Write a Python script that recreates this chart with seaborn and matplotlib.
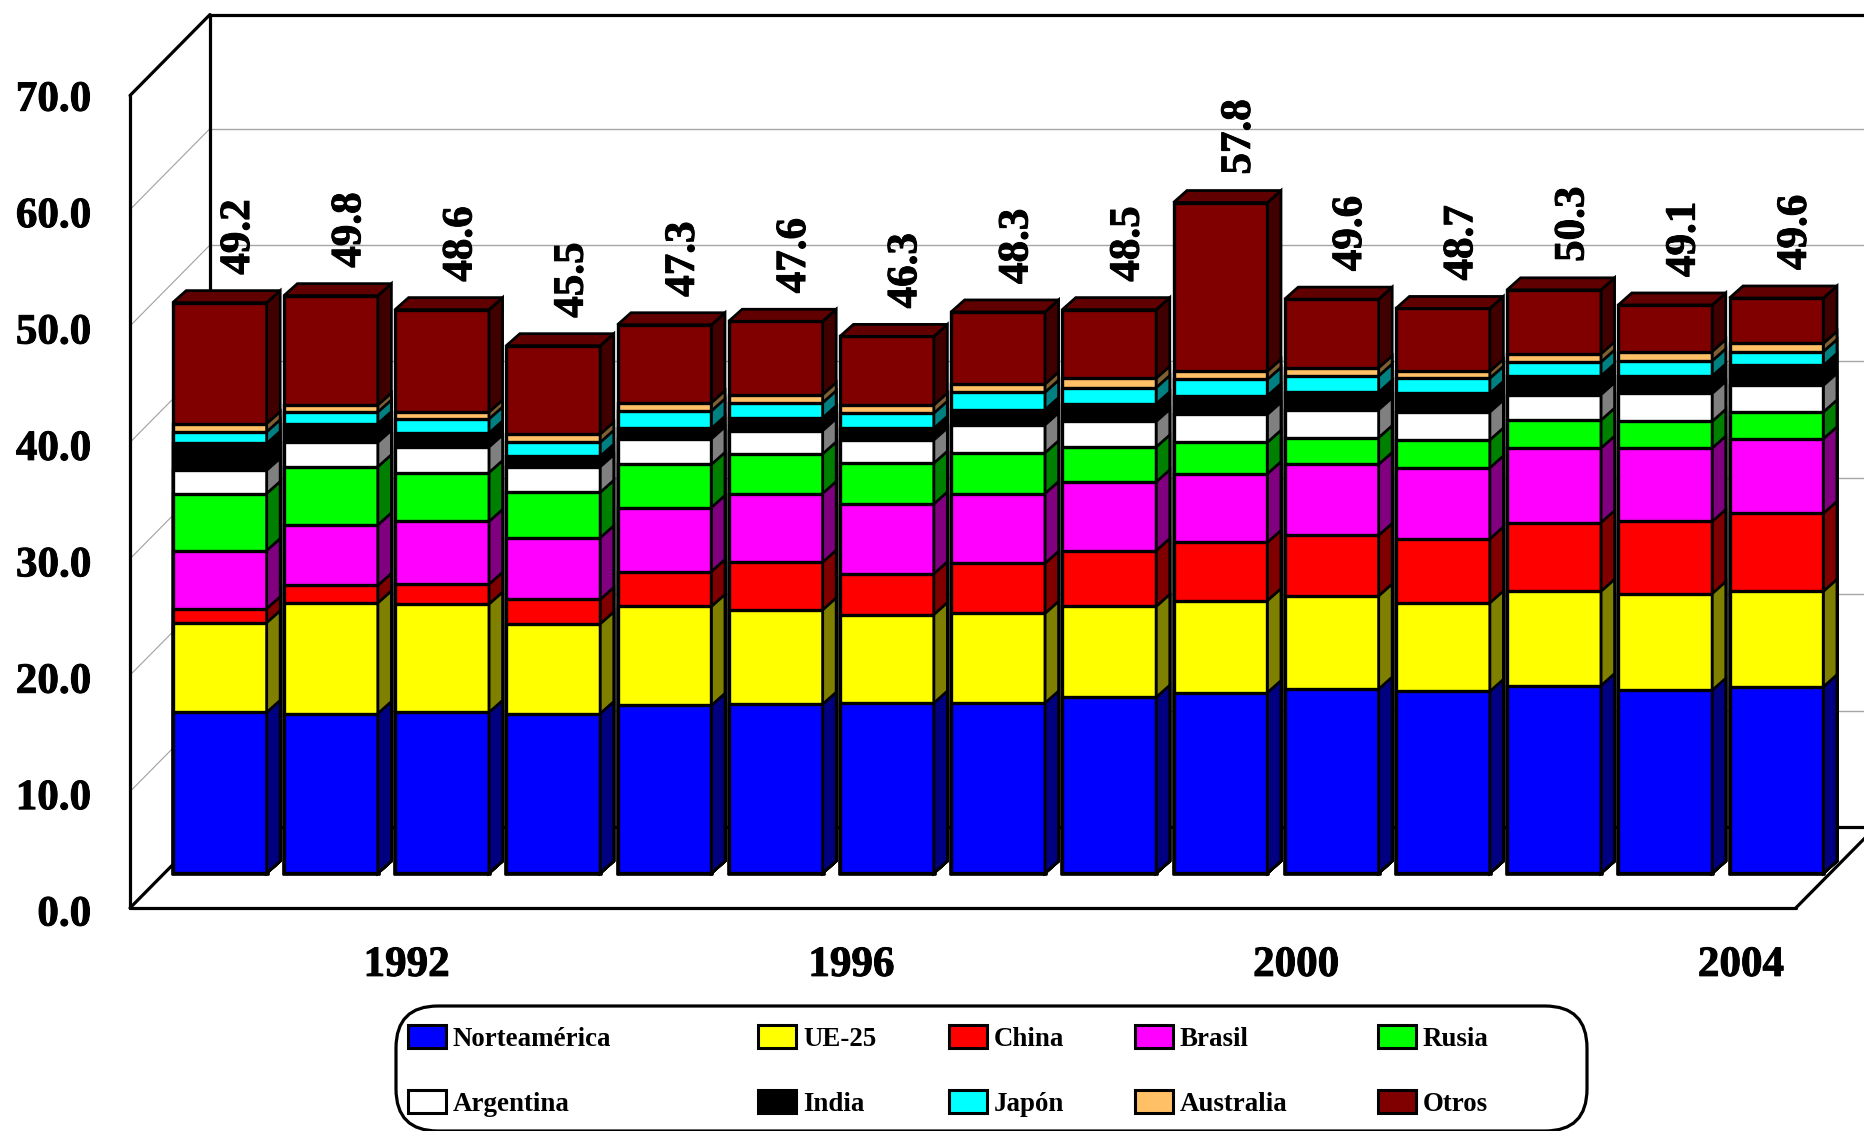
import pandas as pd
import seaborn as sns
import matplotlib
matplotlib.use('Agg')
import matplotlib.pyplot as plt
import matplotlib.patheffects as pe
from matplotlib.patches import FancyBboxPatch, Patch, Polygon
from matplotlib.transforms import ScaledTranslation

years = list(range(1990, 2005))
labels = [49.2, 49.8, 48.6, 45.5, 47.3, 47.6, 46.3, 48.3, 48.5, 57.8, 49.6, 48.7, 50.3, 49.1, 49.6]

norteamerica = [13.8, 13.7, 13.8, 13.7, 14.4, 14.5, 14.6, 14.6, 15.1, 15.5, 15.8, 15.6, 16.1, 15.7, 16.0]
ue25 = [7.7, 9.5, 9.3, 7.7, 8.5, 8.1, 7.6, 7.7, 7.8, 7.9, 8.0, 7.6, 8.1, 8.3, 8.2]
china = [1.2, 1.5, 1.7, 2.1, 3.0, 4.1, 3.5, 4.3, 4.8, 5.0, 5.2, 5.5, 5.9, 6.2, 6.7]
brasil = [5.0, 5.2, 5.4, 5.3, 5.5, 5.9, 6.0, 6.0, 5.9, 5.9, 6.1, 6.1, 6.4, 6.3, 6.4]
rusia = [4.9, 5.0, 4.2, 3.9, 3.7, 3.4, 3.5, 3.5, 3.0, 2.7, 2.3, 2.4, 2.4, 2.3, 2.3]
argentina = [2.0, 2.1, 2.2, 2.2, 2.2, 2.0, 2.0, 2.4, 2.2, 2.4, 2.4, 2.4, 2.2, 2.4, 2.3]
india = [2.3, 1.6, 1.2, 0.9, 0.9, 1.1, 1.0, 1.3, 1.5, 1.6, 1.5, 1.6, 1.6, 1.5, 1.7]
japon = [1.0, 1.0, 1.2, 1.2, 1.5, 1.3, 1.3, 1.5, 1.4, 1.4, 1.4, 1.3, 1.2, 1.3, 1.2]
australia = [0.7, 0.6, 0.6, 0.7, 0.7, 0.7, 0.7, 0.7, 0.8, 0.7, 0.7, 0.6, 0.7, 0.8, 0.7]
otros = [10.4, 9.4, 8.8, 7.6, 6.7, 6.3, 5.9, 6.2, 5.9, 14.5, 5.9, 5.4, 5.5, 4.0, 3.9]

names = ['Norteamérica', 'UE-25', 'China', 'Brasil', 'Rusia', 'Argentina', 'India', 'Japón', 'Australia', 'Otros']
series = [norteamerica, ue25, china, brasil, rusia, argentina, india, japon, australia, otros]
colors = ['#0000ff', '#ffff00', '#ff0000', '#ff00ff', '#00ff00', '#ffffff', '#000000', '#00ffff', '#ffc066', '#800000']
side_colors = ['#000080', '#808000', '#800000', '#800080', '#008000', '#808080', '#000000', '#008080', '#806033', '#400000']
top_color = '#600000'

y_ticks = [0, 10, 20, 30, 40, 50, 60, 70]
x_ticks = [1992, 1996, 2000, 2004]

sns.set_style('white')
plt.rcParams['font.family'] = ['Liberation Serif', 'DejaVu Serif']
plt.rcParams['font.weight'] = 'bold'
plt.rcParams['text.color'] = 'black'
plt.rcParams['xtick.color'] = 'black'
plt.rcParams['ytick.color'] = 'black'

W, H = 1864, 1131
fig = plt.figure(figsize=(W / 100, H / 100), dpi=100)
ax = fig.add_axes([130 / W, (H - 908) / H, (W - 130) / W, 908 / H])

# pixels per category and per value, used to place the fake 3D depth
px_x = 111.2
px_y = 11.64
bar_dx, bar_dy = 13.5 / px_x, 12 / px_y
wall_dx, wall_dy = 80 / px_x, 81 / px_y
front_dx, front_dy = 35.6 / px_x, 35 / px_y

x_left = (130 - 219.7) / px_x
x_end = (W - 219.7) / px_x
y_floor = -front_dy
bold = [pe.withStroke(linewidth=0.7, foreground='black')]

# walls and floor
for t in y_ticks[1:-1]:
    y = y_floor + t
    ax.plot([x_left, x_left + wall_dx], [y, y + wall_dy], color='#a0a0a0', lw=0.8, zorder=0.5)
    ax.plot([x_left + wall_dx, x_end], [y + wall_dy, y + wall_dy], color='#a6a6a6', lw=1.0, zorder=0.5)

x_back = x_left + wall_dx
y_back = y_floor + wall_dy
y_top = y_floor + 69.8
frame = [
    ([x_left, x_left], [y_floor, y_top]),
    ([x_left, x_back], [y_top, y_top + wall_dy]),
    ([x_back, x_end], [y_top + wall_dy, y_top + wall_dy]),
    ([x_back, x_back], [y_back, y_top + wall_dy]),
    ([x_left, x_back], [y_floor, y_back]),
    ([x_back, x_end], [y_back, y_back]),
    ([x_left, x_left + 14.98], [y_floor, y_floor]),
    ([x_left + 14.98, x_left + 14.98 + wall_dx], [y_floor, y_back]),
]
for xs, ys in frame:
    ax.plot(xs, ys, color='black', lw=2.3, zorder=0.6, clip_on=False, solid_capstyle='round')

# stacked bars: tallest cumulative first, each one painted over by the next
df = pd.DataFrame(dict(zip(names, series)), index=years)
totals = df.cumsum(axis=1)
for k in range(len(names) - 1, -1, -1):
    plot_df = pd.DataFrame({'year': years, 'top': totals[names[k]].values})
    sns.barplot(data=plot_df, x='year', y='top', color=colors[k], saturation=1, width=0.845,
                edgecolor='black', linewidth=2.4, errorbar=None, ax=ax)
    for bar in ax.containers[-1]:
        right = bar.get_x() + bar.get_width()
        top = bar.get_height()
        ax.add_patch(Polygon([(right, 0), (right + bar_dx, bar_dy), (right + bar_dx, top + bar_dy), (right, top)],
                             facecolor=side_colors[k], edgecolor='black', lw=2.0))
        if k == len(names) - 1:
            left = bar.get_x()
            ax.add_patch(Polygon([(left, top), (left + bar_dx, top + bar_dy), (right + bar_dx, top + bar_dy), (right, top)],
                                 facecolor=top_color, edgecolor='black', lw=2.0))

# total labels
for i, (top, lab) in enumerate(zip(totals['Otros'], labels)):
    ax.text(i + 0.174, top + 2.4, f'{lab:.1f}', rotation=90, ha='center', va='bottom',
            fontsize=31, fontweight='bold', color='black', path_effects=bold)

ax.set_xlim(x_left, x_end)
ax.set_ylim(y_floor, 75)
ax.set_xticks([years.index(y) - front_dx for y in x_ticks])
ax.set_xticklabels([str(y) for y in x_ticks], fontsize=31, fontweight='bold', path_effects=bold)
ax.set_yticks([t + y_floor for t in y_ticks])
ax.set_yticklabels([f'{t:.1f}' for t in y_ticks], fontsize=31, fontweight='bold', path_effects=bold)
ax.tick_params(axis='x', length=0, pad=28)
ax.tick_params(axis='y', length=0, pad=28)
ax.set_xlabel('')
ax.set_ylabel('')
shift_down = ScaledTranslation(0, -3 / 100, fig.dpi_scale_trans)
for lab in ax.get_yticklabels():
    lab.set_transform(lab.get_transform() + shift_down)
for sp in ax.spines.values():
    sp.set_visible(False)
ax.patch.set_alpha(0)

# rounded legend box, cut by the bottom of the picture
fig.add_artist(FancyBboxPatch((396 / 100, (H - 1131) / 100), 1191 / 100, 125 / 100,
                              boxstyle='round,pad=0,rounding_size=0.42',
                              transform=fig.dpi_scale_trans,
                              facecolor='white', edgecolor='black', lw=2.3, clip_on=False))

legend_x = [408, 758, 949, 1135, 1378]
for c, lx in enumerate(legend_x):
    handles = [Patch(facecolor=colors[c + r * 5], edgecolor='black', lw=2.2, label=names[c + r * 5]) for r in range(2)]
    fig.legend(handles=handles, loc='upper left', bbox_to_anchor=(lx / W, 1 - 1025 / H), frameon=False,
               borderpad=0, borderaxespad=0, prop={'family': 'Liberation Serif', 'weight': 'bold', 'size': 19.4},
               handlelength=1.42, handleheight=0.93, handletextpad=0.25, labelspacing=1.42)

fig.savefig('out.png', dpi=100)
